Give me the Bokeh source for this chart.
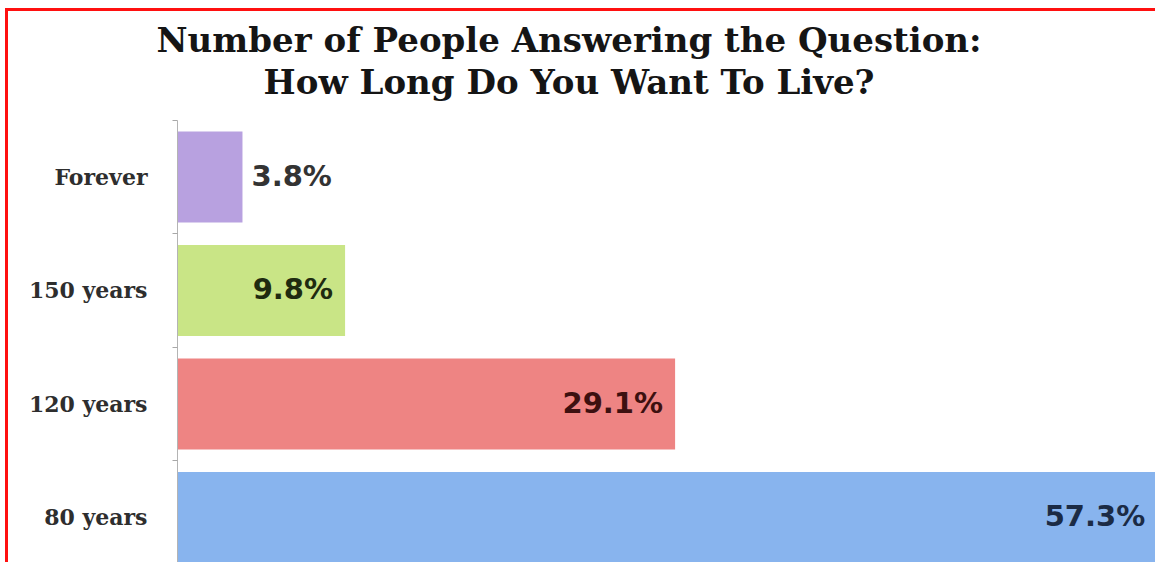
from bokeh.plotting import figure
from bokeh.models import ColumnDataSource, Range1d, FixedTicker, LabelSet, Label
from bokeh.core.properties import value
from bokeh.embed import file_html
from bokeh.resources import INLINE

# ---- data ----
categories = ["80 years", "120 years", "150 years", "Forever"]
percent = [57.3, 29.1, 9.8, 3.8]
bar_colors = ["#88b4ee", "#ee8483", "#c9e586", "#b8a1e0"]
label_colors = ["#1b2b45", "#3d1010", "#1f2b10", "#333333"]
title_lines = ["Number of People Answering the Question:", "How Long Do You Want To Live?"]

ypos = [i + 0.5 for i in range(len(categories))]
texts = [f"{v}%" for v in percent]
inside = [v > 5 for v in percent]

src = ColumnDataSource(dict(y=ypos, v=percent, c=bar_colors))
src_in = ColumnDataSource(dict(
    y=[y for y, k in zip(ypos, inside) if k],
    v=[v for v, k in zip(percent, inside) if k],
    t=[t for t, k in zip(texts, inside) if k],
    tc=[c for c, k in zip(label_colors, inside) if k]))
src_out = ColumnDataSource(dict(
    y=[y for y, k in zip(ypos, inside) if not k],
    v=[v for v, k in zip(percent, inside) if not k],
    t=[t for t, k in zip(texts, inside) if not k],
    tc=[c for c, k in zip(label_colors, inside) if not k]))

# frame covers the whole canvas; axis is fixed at x = 0
p = figure(width=1150, height=554, output_backend="svg", toolbar_location=None,
           title=None, x_axis_location=None,
           x_range=Range1d(-9.883, 57.37), y_range=Range1d(0.077, 4.958),
           min_border_left=0, min_border_right=0, min_border_top=0,
           min_border_bottom=0)
p.styles = {"border-top": "3px solid #ff1010", "border-left": "3px solid #ff1010",
            "margin-top": "8px", "margin-left": "5px"}

p.hbar(y="y", left=0, right="v", height=0.8, fill_color="c", line_color=None, source=src)

ax = p.yaxis[0]
ax.fixed_location = 0
ax.bounds = (0, len(categories))
ax.ticker = FixedTicker(ticks=ypos, minor_ticks=list(range(len(categories) + 1)))
ax.major_label_overrides = {y: c for y, c in zip(ypos, categories)}
ax.major_tick_out = 0
ax.major_tick_in = 0
ax.minor_tick_out = 5
ax.minor_tick_in = 0
ax.minor_tick_line_color = "#a8a8a8"
ax.axis_line_color = "#b4b4b4"
ax.major_label_standoff = 25
ax.major_label_text_font = "DejaVu Serif"
ax.major_label_text_font_style = "bold"
ax.major_label_text_font_size = "22px"
ax.major_label_text_color = "#2e2e2e"

p.grid.visible = False
p.outline_line_color = None
p.background_fill_color = "white"
p.border_fill_color = "white"

for s, al, off in ((src_in, "right", -12), (src_out, "left", 9)):
    p.add_layout(LabelSet(x="v", y="y", text="t", source=s, text_color="tc",
                          text_align=al, text_baseline="middle", x_offset=off, y_offset=1,
                          text_font=value("DejaVu Sans"), text_font_style="bold",
                          text_font_size="29px"))

title_x = 22.9
title_y = [4.703, 4.333]
for line, ty in zip(title_lines, title_y):
    p.add_layout(Label(x=title_x, y=ty, text=line, text_align="center",
                       text_baseline="alphabetic",
                       text_font="DejaVu Serif", text_font_style="bold",
                       text_font_size="34px", text_color="#151515"))

open("out.html", "w").write(file_html(p, INLINE))
